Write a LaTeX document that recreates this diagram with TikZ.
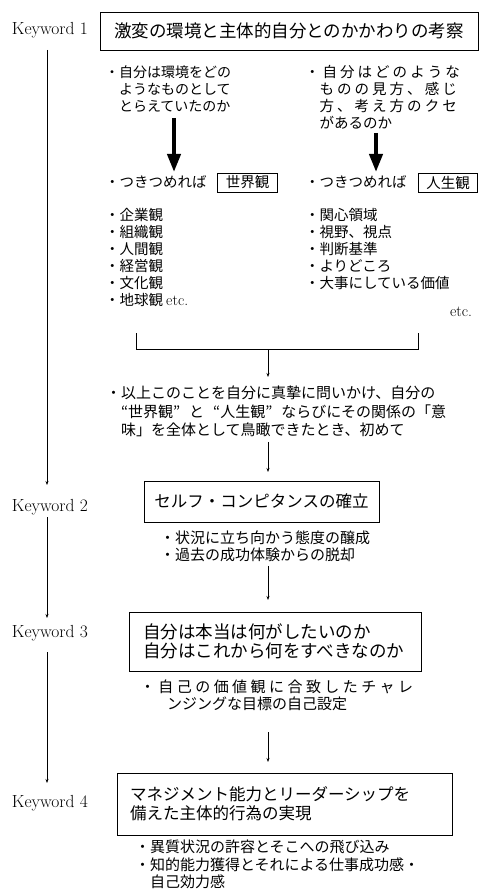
\documentclass[tikz,border=0pt]{standalone}
\usepackage{fontspec}
\newfontfamily\jp{Noto Sans CJK JP}
\newfontfamily\jpw[LetterSpace=21]{Noto Sans CJK JP}
\newfontfamily\jpx[LetterSpace=23]{Noto Sans CJK JP}
\usetikzlibrary{arrows.meta}
\newcommand\mlines[1]{\vtop{\halign{##\hfil\cr#1\crcr}}}
\begin{document}
\begin{tikzpicture}[x=1pt,y=-1pt,
  every node/.style={inner sep=0pt, outer sep=0pt},
  body/.style={font=\fontsize{14.5}{17}\selectfont\jp, anchor=base west},
  kw/.style={font=\fontsize{17.5}{19}\selectfont, anchor=west, minimum height=20pt},
  bigbox/.style={draw, line width=0.9pt, font=\fontsize{17.5}{19}\selectfont\jp},
  smallbox/.style={draw, line width=0.8pt, font=\fontsize{14.5}{17}\selectfont\jp, inner xsep=8pt, minimum height=19pt},
  conn/.style={line width=0.7pt, -{Stealth[length=4pt,width=3pt]}},
  plain/.style={line width=0.7pt},
  bigarrow/.style={line width=4pt, -{Triangle[length=18pt,width=13pt]}},
]
\fill[white] (0,0) rectangle (481,896);
\useasboundingbox (0,0) rectangle (481,896);

% keywords
\node[kw] (kw1) at (12,30) {Keyword 1};
\node[kw] (kw2) at (12,507) {Keyword 2};
\node[kw] (kw3) at (12,633) {Keyword 3};
\node[kw] (kw4) at (12,803) {Keyword 4};
\coordinate (lx) at (47,0);
\draw[conn, shorten <=10pt, shorten >=12pt] (kw1.south -| lx) -- (kw2.north -| lx);
\draw[conn, shorten >=5pt] (kw2.south -| lx) -- (kw3.north -| lx);
\draw[conn, shorten <=9pt, shorten >=10pt] (kw3.south -| lx) -- (kw4.north -| lx);

% box 1
\node[bigbox, minimum width=378pt, minimum height=38pt] (b1) at (289,31) {激変の環境と主体的自分とのかかわりの考察};

% two columns
\node[body, font=\fontsize{14}{17}\selectfont\jp] (l1) at (105,77.5) {\mlines{・自分は環境をどの\cr\quad ようなものとして\cr\quad とらえていたのか}};
\node[body] (r1) at (305,77.5) {\mlines{{\jpw ・自分はどのような}\cr\quad{\jpw ものの見方、感じ}\cr\quad{\jpw 方、考え方のクセ}\cr\quad があるのか}};

\coordinate (a1s) at (174,118);
\coordinate (a1e) at (174,172);
\coordinate (a2s) at (376,133);
\coordinate (a2e) at (376,172);
\draw[bigarrow] (a1s) -- (a1e);
\draw[bigarrow] (a2s) -- (a2e);

\node[body, anchor=west] (w1) at (105,182) {・つきつめれば};
\node[smallbox] (wb1) at (247.5,182.5) {世界観};
\node[body, anchor=west] (w2) at (305,182) {・つきつめれば};
\node[smallbox] (wb2) at (448,182.5) {人生観};

\node[body] (l2) at (105,220.5) {\mlines{・企業観\cr・組織観\cr・人間観\cr・経営観\cr・文化観\cr・地球観 {\rmfamily\fontsize{15.5}{17}\selectfont etc.}}};
\node[body] (r2) at (305,220.5) {\mlines{・関心領域\cr・視野、視点\cr・判断基準\cr・よりどころ\cr・大事にしている価値}};
\node[font=\fontsize{15.5}{17}\selectfont, anchor=east] (etc) at (472,312) {etc.};

% bracket
\coordinate (bl) at (136,333);
\coordinate (br) at (418,333);
\draw[plain] (bl) -- ++(0,16) -| (br);
\coordinate (bm) at (268,349);
\coordinate (bt) at (268,377);
\draw[conn] (bm) -- (bt);

% paragraph
\node[body, font=\fontsize{15}{18.5}\selectfont\jp] (p) at (106,398.5) {\mlines{・以上このことを自分に真摯に問いかけ、自分の\cr\quad “世界観”\hspace{0.6em}と\hspace{0.6em}“人生観”\hspace{0.6em}ならびにその関係の「意\cr\quad 味」を全体として鳥瞰できたとき、初めて}};

% box 2
\node[bigbox, font=\fontsize{16.5}{19}\selectfont\jp, minimum width=235pt, minimum height=41pt] (b2) at (261.5,501.5) {セルフ・コンピタンスの確立};
\draw[conn, shorten <=5pt, shorten >=9pt] (p.south -| bm) -- (b2.north -| bm);

\node[body, font=\fontsize{15}{17}\selectfont\jp] (q2) at (160,543.5) {\mlines{・状況に立ち向かう態度の醸成\cr・過去の成功体験からの脱却}};

% box 3
\node[bigbox, text width=264pt, inner xsep=14pt, minimum height=59pt, align=left] (b3) at (275,641.5) {自分は本当は何がしたいのか\\自分はこれから何をすべきなのか};
\draw[conn, shorten <=4pt, shorten >=12pt] (q2.south -| bm) -- (b3.north -| bm);

\node[body, font=\fontsize{15}{16.5}\selectfont\jp] (q3) at (140,692.5) {\mlines{{\jpx ・自己の価値観に合致したチャレ}\cr\hspace*{1.8em}ンジングな目標の自己設定}};

% box 4
\node[bigbox, font=\fontsize{16.5}{19}\selectfont\jp, text width=309pt, inner xsep=13pt, minimum height=62pt, align=left] (b4) at (284.5,804) {マネジメント能力とリーダーシップを\\備えた主体的行為の実現};
\draw[conn, shorten <=22pt, shorten >=11pt] (q3.south -| bm) -- (b4.north -| bm);

\node[body, font=\fontsize{15}{17.5}\selectfont\jp] (q4) at (135,852.5) {\mlines{・異質状況の許容とそこへの飛び込み\cr・知的能力獲得とそれによる仕事成功感・\cr\quad 自己効力感}};
\end{tikzpicture}
\end{document}
